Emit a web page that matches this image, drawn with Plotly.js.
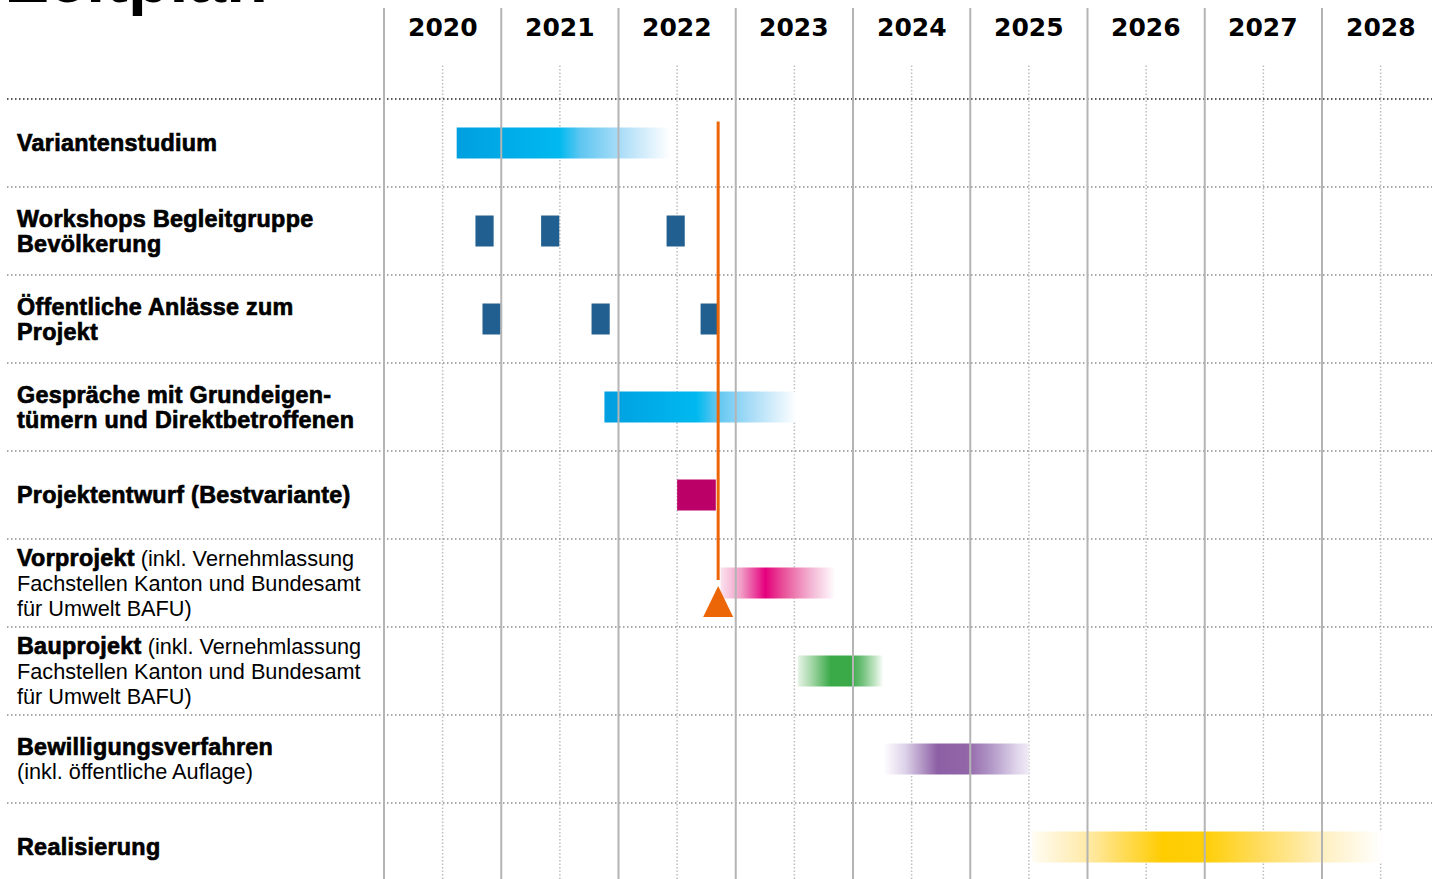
<!DOCTYPE html>
<html><head><meta charset="utf-8">
<script src="https://cdn.plot.ly/plotly-3.0.1.min.js"></script>
<style>html,body{margin:0;padding:0;background:#fff;overflow:hidden}#chart{width:1432px;height:879px}</style>
</head><body><div id="chart"></div>
<script>
// ---------- data ----------
const years = [2020, 2021, 2022, 2023, 2024, 2025, 2026, 2027, 2028];
const chartTitle = "Zeitplan";
const taskLabels = [
  "<b>Variantenstudium</b>",
  "<b>Workshops Begleitgruppe</b><br><b>Bevölkerung</b>",
  "<b>Öffentliche Anlässe zum</b><br><b>Projekt</b>",
  "<b>Gespräche mit Grundeigen-</b><br><b>tümern und Direktbetroffenen</b>",
  "<b>Projektentwurf (Bestvariante)</b>",
  "<b>Vorprojekt</b> (inkl. Vernehmlassung<br>Fachstellen Kanton und Bundesamt<br>für Umwelt BAFU)",
  "<b>Bauprojekt</b> (inkl. Vernehmlassung<br>Fachstellen Kanton und Bundesamt<br>für Umwelt BAFU)",
  "<b>Bewilligungsverfahren</b><br>(inkl. öffentliche Auflage)",
  "<b>Realisierung</b>"
];
// phases drawn with fading ends (row index, start, end in decimal years)
const phaseRows  = [0, 3, 5, 6, 7, 8];
const phaseStart = [2020.62, 2021.88, 2022.87, 2023.53, 2024.26, 2025.53];
const phaseEnd   = [2022.44, 2023.52, 2023.85, 2024.26, 2025.50, 2028.51];
// single events
const workshopRow = 1;
const workshopDates = [2020.78, 2021.34, 2022.41];
const eventRow = 2;
const eventDates = [2020.84, 2021.77, 2022.70];
const meetingLength = [0.155, 0.155, 0.155];
const designRow = 4;
const designStart = [2022.50];
const designEnd = [2022.83];
// "today" milestone
const todayMark = 2022.85;
const todayRow = 5;

// ---------- styles ----------
const phaseScales = [
  [[0,'#009fe0'],[0.48,'#00b9ef'],[0.58,'#5ec6f1'],[0.76,'#a8dcf7'],[0.9,'#dbf0fc'],[1,'#ffffff']],
  [[0,'#009fe0'],[0.48,'#00b9ef'],[0.58,'#5ec6f1'],[0.76,'#a8dcf7'],[0.9,'#dbf0fc'],[1,'#ffffff']],
  [[0,'#fbe3ef'],[0.18,'#f09cc5'],[0.39,'#e5007d'],[0.55,'#e9529a'],[0.78,'#f3b3d2'],[1,'#ffffff']],
  [[0,'#e6f3e6'],[0.15,'#a9d9ab'],[0.38,'#3aaa49'],[0.62,'#3aaa49'],[0.75,'#6fc079'],[0.9,'#c3e5c5'],[1,'#ffffff']],
  [[0,'#ffffff'],[0.15,'#ddd2e9'],[0.37,'#8d60a5'],[0.57,'#9165a8'],[0.75,'#b49bc9'],[0.92,'#e0d6ec'],[1,'#f0ebf6']],
  [[0,'#fffcf2'],[0.157,'#ffeaa8'],[0.374,'#ffcc00'],[0.5,'#ffcf0a'],[0.65,'#ffdc5e'],[0.83,'#fff0c0'],[1,'#ffffff']]
];
const W = 1432, H = 879;
const yearPx = 117.25, originPx = 384;      // pixel of 2020.0
const rowPx = 88, row0Px = 143;             // pixel of row 0 centre
const barHalf = 15.5 / rowPx;
const lineStep = 25 / rowPx;
const boldFont = 'Liberation Sans';
const regFont = 'Liberation Sans';

const traces = [];
// gradient phases
phaseRows.forEach((r, i) => {
  const s = phaseStart[i], e = phaseEnd[i];
  traces.push({
    type: 'scatter', mode: 'none', hoverinfo: 'skip', showlegend: false,
    x: [s, e, e, s, s], y: [r - barHalf, r - barHalf, r + barHalf, r + barHalf, r - barHalf],
    fill: 'toself',
    fillgradient: {type: 'horizontal', colorscale: phaseScales[i]}
  });
});
// solid bars
function solidBar(rowIdx, starts, lengths, color) {
  traces.push({
    type: 'bar', orientation: 'h', showlegend: false, hoverinfo: 'skip',
    y: starts.map(() => rowIdx), base: starts, x: lengths,
    width: 2 * barHalf, marker: {color: color, line: {width: 0}}
  });
}
solidBar(workshopRow, workshopDates, meetingLength, '#205f8f');
solidBar(eventRow, eventDates, meetingLength, '#205f8f');
solidBar(designRow, designStart, designStart.map((s, i) => designEnd[i] - s), '#bb0068');

// milestone line + triangle
const orange = '#ec6608';
traces.push({
  type: 'scatter', mode: 'lines', hoverinfo: 'skip', showlegend: false,
  x: [todayMark, todayMark], y: [-barHalf - 6 / rowPx, todayRow - 3 / rowPx],
  line: {color: orange, width: 3}
});
const triHalfW = 15 / yearPx;
const triTop = todayRow + 3 / rowPx, triBot = todayRow + 34 / rowPx;
traces.push({
  type: 'scatter', mode: 'none', hoverinfo: 'skip', showlegend: false,
  x: [todayMark - triHalfW, todayMark + triHalfW, todayMark, todayMark - triHalfW],
  y: [triBot, triBot, triTop, triBot],
  fill: 'toself', fillcolor: orange
});

// ---------- shapes ----------
const shapes = [];
years.forEach(y => {
  shapes.push({type: 'line', xref: 'x', yref: 'paper', x0: y + 0.5, x1: y + 0.5,
    y0: 0, y1: 1 - 65 / H, layer: 'below',
    line: {color: '#bdbdbd', width: 1.5, dash: '1.5px,2px'}});
});
years.forEach(y => {
  shapes.push({type: 'line', xref: 'x', yref: 'paper', x0: y, x1: y,
    y0: 0, y1: 1 - 8 / H, layer: 'above',
    line: {color: '#b4b4b4', width: 2}});
});
for (let i = 0; i < taskLabels.length; i++) {
  shapes.push({type: 'line', xref: 'paper', yref: 'y', x0: 7 / W, x1: 1,
    y0: i - 0.5, y1: i - 0.5, layer: 'below',
    line: {color: i === 0 ? '#222222' : '#8c8c8c', width: 1.5, dash: '1.5px,2.5px'}});
}

// ---------- annotations ----------
const annotations = [];
annotations.push({
  text: chartTitle, xref: 'paper', yref: 'paper', x: 5 / W, y: 1 - 18 / H,
  xanchor: 'left', yanchor: 'bottom', showarrow: false,
  font: {family: boldFont, size: 68, weight: 'bold', color: '#000'}
});
years.forEach(y => {
  annotations.push({
    text: String(y), xref: 'x', yref: 'paper', x: y + 0.5, y: 1 - 27 / H,
    xanchor: 'center', yanchor: 'middle', showarrow: false,
    font: {family: 'DejaVu Sans', size: 25, weight: 'bold', color: '#000'}
  });
});
taskLabels.forEach((lbl, r) => {
  const lines = lbl.split('<br>');
  lines.forEach((ln, k) => {
    const txt = ln.replace(/<b>(.*?)<\/b>/g,
      '<span style="font-family:' + boldFont + ';font-weight:bold;font-size:23.3px;stroke:#000;stroke-width:0.7px;letter-spacing:0.3px">$1</span>');
    annotations.push({
      text: txt, xref: 'paper', yref: 'y', x: 15 / W,
      y: r + (k - (lines.length - 1) / 2) * lineStep,
      xanchor: 'left', yanchor: 'middle', align: 'left', showarrow: false,
      font: {family: regFont, size: 21.7, color: '#000'}
    });
  });
});

const layout = {
  width: W, height: H, margin: {l: 0, r: 0, t: 0, b: 0, pad: 0},
  paper_bgcolor: '#ffffff', plot_bgcolor: '#ffffff',
  barmode: 'overlay', showlegend: false,
  xaxis: {range: [2020 - originPx / yearPx, 2020 + (W - originPx) / yearPx],
    visible: false, fixedrange: true},
  yaxis: {range: [(H - row0Px) / rowPx, -row0Px / rowPx],
    visible: false, fixedrange: true},
  shapes: shapes, annotations: annotations
};
Plotly.newPlot('chart', traces, layout, {displayModeBar: false, staticPlot: true});
</script></body></html>
